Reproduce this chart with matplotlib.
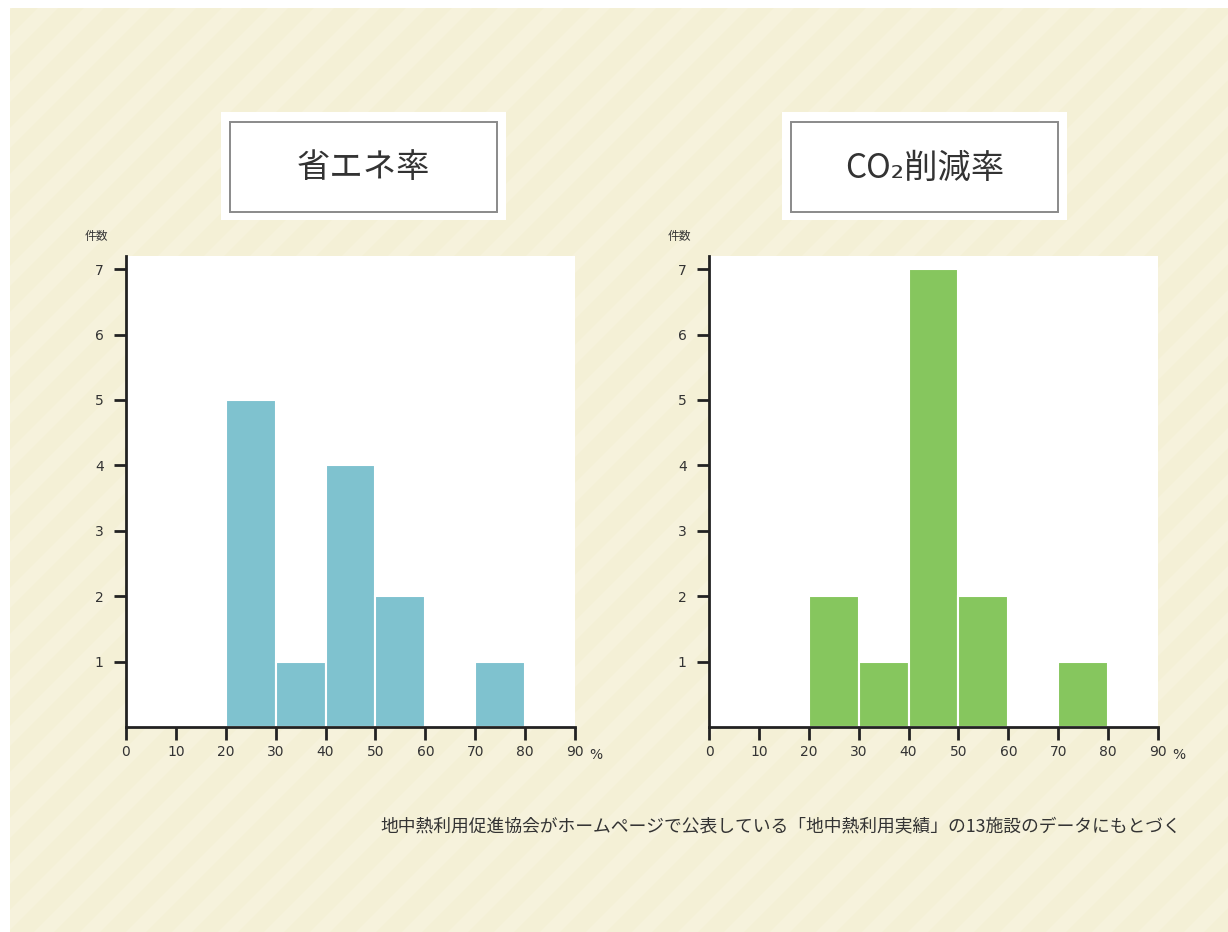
import matplotlib
matplotlib.use("Agg")
import matplotlib.pyplot as plt
from matplotlib.patches import Rectangle, Polygon

plt.rcParams['font.family'] = ['DejaVu Sans', 'Noto Sans CJK JP']
JP = ['Noto Sans CJK JP', 'DejaVu Sans']

# data: 10%-wide bins, counts per bin
bin_left = [0, 10, 20, 30, 40, 50, 60, 70, 80]
energy_counts = [0, 0, 5, 1, 4, 2, 0, 1, 0]
co2_counts = [0, 0, 2, 1, 7, 2, 0, 1, 0]
x_ticks = [0, 10, 20, 30, 40, 50, 60, 70, 80, 90]
y_ticks = [1, 2, 3, 4, 5, 6, 7]
titles = ['省エネ率', 'CO₂削減率']
y_label = '件数'
note = '地中熱利用促進協会がホームページで公表している「地中熱利用実績」の13施設のデータにもとづく'

W, H = 1228, 932
fig = plt.figure(figsize=(W / 100, H / 100), dpi=100, facecolor='white')

# background layer in pixel coords
bg = fig.add_axes([0, 0, 1, 1], zorder=-5)
bg.set_xlim(0, W)
bg.set_ylim(H, 0)
bg.axis('off')
beige = Rectangle((10, 8), W - 10, H - 8, facecolor='#f4f0d6', edgecolor='none')
bg.add_patch(beige)
# faint diagonal stripes
step, band = 46, 20
for k in range(-H, W + H, step):
    poly = Polygon([(k, H), (k + band, H), (k + band + H, 0), (k + H, 0)],
                   closed=True, facecolor='#f6f2dc', edgecolor='none')
    bg.add_patch(poly)
    poly.set_clip_path(beige)

# title boxes
for (ox, text) in [(221, titles[0]), (782, titles[1])]:
    bg.add_patch(Rectangle((ox, 112), 285, 108, facecolor='white', edgecolor='none'))
    bg.add_patch(Rectangle((ox + 9, 122), 267, 90, facecolor='white',
                           edgecolor='#8a8a8a', linewidth=1.4))
    bg.text(ox + 142.5, 168, text, ha='center', va='center', fontsize=24,
            color='#333333', family=JP)

bg.text(781, 826, note, ha='center', va='center', fontsize=12.8,
        color='#333333', family=JP)

colors = ['#7fc2cf', '#86c65e']
counts_list = [energy_counts, co2_counts]
lefts = [126, 709]

for left_px, counts, col in zip(lefts, counts_list, colors):
    ax = fig.add_axes([left_px / W, 205 / H, 449 / W, 471 / H])
    ax.set_facecolor('white')
    ax.bar(bin_left, counts, width=10, align='edge', color=col,
           edgecolor='white', linewidth=1.5)
    ax.set_xlim(0, 90)
    ax.set_ylim(0, 7.2)
    ax.set_xticks(x_ticks)
    ax.set_yticks(y_ticks)
    ax.set_xticklabels([str(v) for v in x_ticks])
    for s in ['top', 'right']:
        ax.spines[s].set_visible(False)
    for s in ['left', 'bottom']:
        ax.spines[s].set_linewidth(2)
        ax.spines[s].set_color('#222222')
    ax.tick_params(axis='both', length=9, width=2, color='#222222',
                   labelsize=10, labelcolor='#333333', direction='out')
    ax.tick_params(axis='x', pad=4)
    ax.tick_params(axis='y', pad=7)
    for lbl in ax.get_xticklabels() + ax.get_yticklabels():
        lbl.set_family('DejaVu Sans')
    ax.text(1.031, -0.059, '%', transform=ax.transAxes, ha='left', va='center',
            fontsize=10, color='#333333', family='DejaVu Sans')
    ax.text(-0.093, 1.042, y_label, transform=ax.transAxes, ha='left',
            va='center', fontsize=8.5, color='#333333', family=JP)

fig.savefig('out.png', dpi=100, facecolor='white')
